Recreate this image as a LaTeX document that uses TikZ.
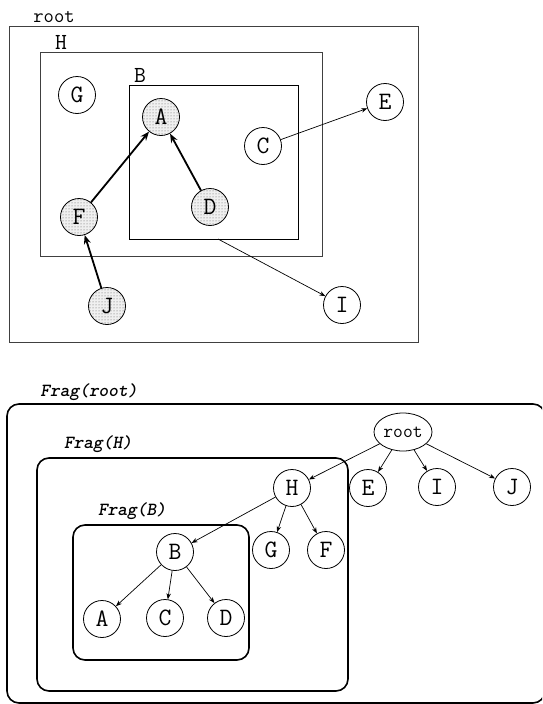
\documentclass[tikz,border=0pt]{standalone}
\usepackage{fontspec}
\usetikzlibrary{arrows.meta,patterns,shapes.geometric}
\begin{document}
\begin{tikzpicture}[x=1pt,y=-1pt,
  vnode/.style={circle,draw,line width=0.8pt,minimum size=37pt,inner sep=0pt,font=\ttfamily\fontsize{25}{25}\selectfont},
  shaded/.style={vnode,preaction={fill=gray!12},pattern=dots,pattern color=black!65},
  lbl/.style={inner sep=0pt,font=\ttfamily\fontsize{20}{20}\selectfont},
  biglbl/.style={inner sep=0pt,font=\ttfamily\fontsize{23}{23}\selectfont},
  fraglbl/.style={inner sep=0pt,font=\ttfamily\bfseries\itshape\fontsize{18.5}{18.5}\selectfont},
  region/.style={draw=black!75,line width=1pt},
  frag/.style={draw,line width=1.6pt,rounded corners=12pt},
  thick arrow/.style={line width=1.8pt,-{Stealth[length=9pt,width=7pt]}},
  thin arrow/.style={line width=0.7pt,-{Stealth[length=6pt,width=4.5pt]}}]
\useasboundingbox (0,0) rectangle (542,704);
\clip (0,0) rectangle (542,704);

% ---------- top: containment view ----------
\draw[region] (9,26) rectangle (418,342);
\draw[region] (40,52) rectangle (322,256);
\draw[draw=black,line width=1pt] (129,85) rectangle (298,239);
\node[lbl] (lroot) at (54,17) {root};
\node[biglbl] (lH) at (61,42) {H};
\node[biglbl] (lB) at (140,75) {B};

\node[vnode] (G) at (77,95) {G};
\node[shaded] (A) at (161,117) {A};
\node[vnode] (C) at (263,146) {C};
\node[vnode] (E) at (385,102) {E};
\node[shaded] (D) at (210,207) {D};
\node[shaded] (F) at (79,217) {F};
\node[shaded] (J) at (107,306) {J};
\node[vnode] (I) at (342,305) {I};
\coordinate (Bbot) at (218,239);

\draw[thick arrow] (F) -- (A);
\draw[thick arrow] (D) -- (A);
\draw[thick arrow] (J) -- (F);
\draw[thin arrow] (C) -- (E);
\draw[thin arrow] (Bbot) -- (I);

% ---------- bottom: fragment tree ----------
\draw[frag] (7,404) rectangle (545,703);
\draw[frag] (37,458) rectangle (348,691);
\draw[frag] (73,525) rectangle (249,660);
\node[fraglbl] (fr) at (89,392) {Frag(root)};
\node[fraglbl] (fh) at (98,444) {Frag(H)};
\node[fraglbl] (fb) at (132,511) {Frag(B)};

\node[ellipse,draw,line width=0.8pt,minimum width=58pt,minimum height=38pt,inner sep=0pt,font=\ttfamily\fontsize{19}{19}\selectfont] (r2) at (403,432) {root};
\node[vnode] (H2) at (292,488) {H};
\node[vnode] (E2) at (368,488) {E};
\node[vnode] (I2) at (437,487) {I};
\node[vnode] (J2) at (512,487) {J};
\node[vnode] (B2) at (175,552) {B};
\node[vnode] (G2) at (271,550) {G};
\node[vnode] (F2) at (326,550) {F};
\node[vnode] (A2) at (102,619) {A};
\node[vnode] (C2) at (165,618) {C};
\node[vnode] (D2) at (226,618) {D};

\foreach \t in {H2,E2,I2,J2} \draw[thin arrow] (r2) -- (\t);
\foreach \t in {B2,G2,F2} \draw[thin arrow] (H2) -- (\t);
\foreach \t in {A2,C2,D2} \draw[thin arrow] (B2) -- (\t);
\end{tikzpicture}
\end{document}
